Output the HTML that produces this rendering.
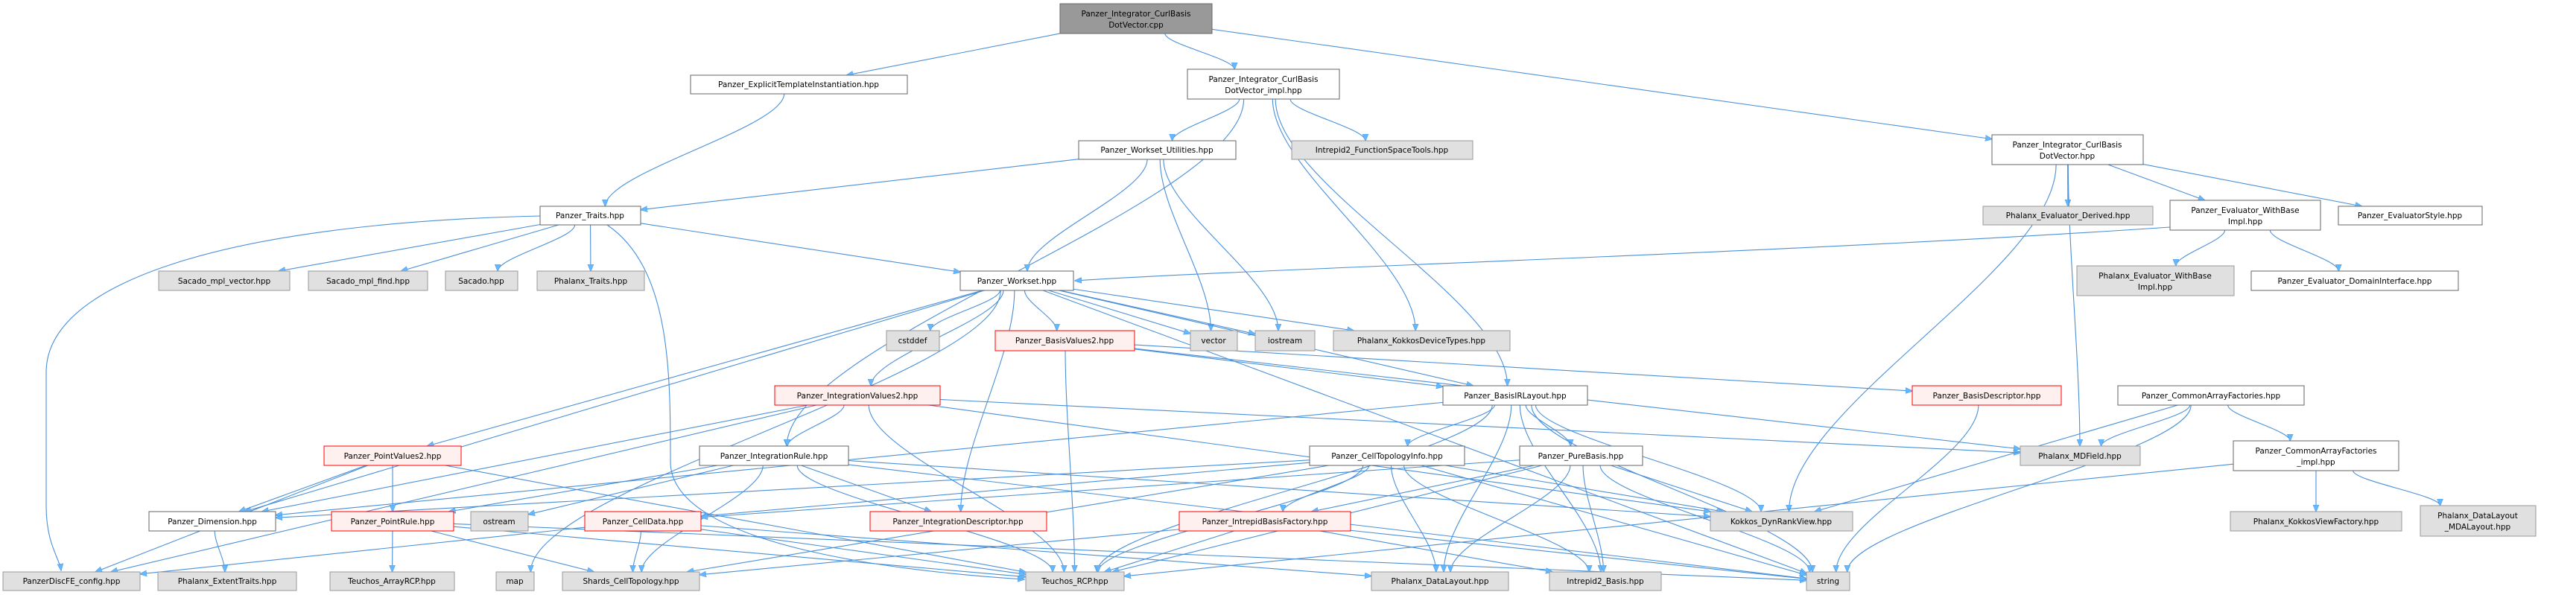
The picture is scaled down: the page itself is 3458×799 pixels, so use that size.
<!DOCTYPE html>
<html><head><meta charset="utf-8">
<style>
html,body{margin:0;padding:0;background:#fff;}
svg{display:block;}
text{font-family:"DejaVu Sans","Liberation Sans",sans-serif;font-size:10.5px;fill:#000;}
</style></head>
<body>
<svg id="g" width="3458" height="799" viewBox="0 0 3458 799" xmlns="http://www.w3.org/2000/svg">
<defs>
<marker id="a" viewBox="0 0 10 10" refX="9" refY="5" markerWidth="10" markerHeight="10" markerUnits="userSpaceOnUse" orient="auto">
<path d="M0,1 L10,5 L0,9 z" fill="#63b8ff" stroke="#4a90d9" stroke-width="0.5"/>
</marker>
</defs>
<g id="edges"></g>
<g id="nodes">
<rect x="1423" y="5" width="204" height="40" fill="#999" stroke="#666"/><text x="1525" y="22" text-anchor="middle">Panzer_Integrator_CurlBasis</text><text x="1525" y="37" text-anchor="middle">DotVector.cpp</text>
<rect x="927" y="101" width="291" height="25" fill="#fff" stroke="#666"/><text x="1072" y="117" text-anchor="middle">Panzer_ExplicitTemplateInstantiation.hpp</text>
<rect x="1594" y="93" width="204" height="40" fill="#fff" stroke="#666"/><text x="1696" y="110" text-anchor="middle">Panzer_Integrator_CurlBasis</text><text x="1696" y="125" text-anchor="middle">DotVector_impl.hpp</text>
<rect x="1448" y="189" width="211" height="25" fill="#fff" stroke="#666"/><text x="1553" y="205" text-anchor="middle">Panzer_Workset_Utilities.hpp</text>
<rect x="1734" y="189" width="243" height="25" fill="#e0e0e0" stroke="#999"/><text x="1855" y="205" text-anchor="middle">Intrepid2_FunctionSpaceTools.hpp</text>
<rect x="2674" y="181" width="203" height="40" fill="#fff" stroke="#666"/><text x="2775" y="198" text-anchor="middle">Panzer_Integrator_CurlBasis</text><text x="2775" y="213" text-anchor="middle">DotVector.hpp</text>
<rect x="725" y="277" width="135" height="25" fill="#fff" stroke="#666"/><text x="792" y="293" text-anchor="middle">Panzer_Traits.hpp</text>
<rect x="2662" y="277" width="228" height="25" fill="#e0e0e0" stroke="#999"/><text x="2776" y="293" text-anchor="middle">Phalanx_Evaluator_Derived.hpp</text>
<rect x="2913" y="269" width="202" height="40" fill="#fff" stroke="#666"/><text x="3014" y="286" text-anchor="middle">Panzer_Evaluator_WithBase</text><text x="3014" y="301" text-anchor="middle">Impl.hpp</text>
<rect x="3139" y="277" width="193" height="25" fill="#fff" stroke="#666"/><text x="3235" y="293" text-anchor="middle">Panzer_EvaluatorStyle.hpp</text>
<rect x="213" y="364" width="176" height="26" fill="#e0e0e0" stroke="#999"/><text x="301" y="381" text-anchor="middle">Sacado_mpl_vector.hpp</text>
<rect x="414" y="364" width="160" height="26" fill="#e0e0e0" stroke="#999"/><text x="494" y="381" text-anchor="middle">Sacado_mpl_find.hpp</text>
<rect x="598" y="364" width="97" height="26" fill="#e0e0e0" stroke="#999"/><text x="646" y="381" text-anchor="middle">Sacado.hpp</text>
<rect x="721" y="364" width="144" height="26" fill="#e0e0e0" stroke="#999"/><text x="793" y="381" text-anchor="middle">Phalanx_Traits.hpp</text>
<rect x="1289" y="364" width="152" height="26" fill="#fff" stroke="#666"/><text x="1365" y="381" text-anchor="middle">Panzer_Workset.hpp</text>
<rect x="2788" y="357" width="211" height="40" fill="#e0e0e0" stroke="#999"/><text x="2893" y="374" text-anchor="middle">Phalanx_Evaluator_WithBase</text><text x="2893" y="389" text-anchor="middle">Impl.hpp</text>
<rect x="3022" y="364" width="278" height="26" fill="#fff" stroke="#666"/><text x="3161" y="381" text-anchor="middle">Panzer_Evaluator_DomainInterface.hpp</text>
<rect x="1190" y="444" width="71" height="27" fill="#e0e0e0" stroke="#999"/><text x="1225" y="461" text-anchor="middle">cstddef</text>
<rect x="1336" y="444" width="187" height="27" fill="#fff0f0" stroke="#f00"/><text x="1429" y="461" text-anchor="middle">Panzer_BasisValues2.hpp</text>
<rect x="1598" y="444" width="63" height="27" fill="#e0e0e0" stroke="#999"/><text x="1629" y="461" text-anchor="middle">vector</text>
<rect x="1685" y="444" width="80" height="27" fill="#e0e0e0" stroke="#999"/><text x="1725" y="461" text-anchor="middle">iostream</text>
<rect x="1790" y="444" width="237" height="27" fill="#e0e0e0" stroke="#999"/><text x="1908" y="461" text-anchor="middle">Phalanx_KokkosDeviceTypes.hpp</text>
<rect x="1040" y="518" width="222" height="26" fill="#fff0f0" stroke="#f00"/><text x="1151" y="535" text-anchor="middle">Panzer_IntegrationValues2.hpp</text>
<rect x="1937" y="518" width="194" height="26" fill="#fff" stroke="#666"/><text x="2034" y="535" text-anchor="middle">Panzer_BasisIRLayout.hpp</text>
<rect x="2567" y="518" width="200" height="26" fill="#fff0f0" stroke="#f00"/><text x="2667" y="535" text-anchor="middle">Panzer_BasisDescriptor.hpp</text>
<rect x="2843" y="518" width="250" height="26" fill="#fff" stroke="#666"/><text x="2968" y="535" text-anchor="middle">Panzer_CommonArrayFactories.hpp</text>
<rect x="435" y="599" width="184" height="26" fill="#fff0f0" stroke="#f00"/><text x="527" y="616" text-anchor="middle">Panzer_PointValues2.hpp</text>
<rect x="939" y="599" width="200" height="26" fill="#fff" stroke="#666"/><text x="1039" y="616" text-anchor="middle">Panzer_IntegrationRule.hpp</text>
<rect x="1758" y="599" width="208" height="26" fill="#fff" stroke="#666"/><text x="1862" y="616" text-anchor="middle">Panzer_CellTopologyInfo.hpp</text>
<rect x="2040" y="599" width="165" height="26" fill="#fff" stroke="#666"/><text x="2122" y="616" text-anchor="middle">Panzer_PureBasis.hpp</text>
<rect x="2712" y="599" width="161" height="26" fill="#e0e0e0" stroke="#999"/><text x="2792" y="616" text-anchor="middle">Phalanx_MDField.hpp</text>
<rect x="2998" y="592" width="222" height="40" fill="#fff" stroke="#666"/><text x="3109" y="609" text-anchor="middle">Panzer_CommonArrayFactories</text><text x="3109" y="624" text-anchor="middle">_impl.hpp</text>
<rect x="200" y="687" width="170" height="26" fill="#fff" stroke="#666"/><text x="285" y="704" text-anchor="middle">Panzer_Dimension.hpp</text>
<rect x="445" y="687" width="164" height="26" fill="#fff0f0" stroke="#f00"/><text x="527" y="704" text-anchor="middle">Panzer_PointRule.hpp</text>
<rect x="632" y="687" width="77" height="26" fill="#e0e0e0" stroke="#999"/><text x="670" y="704" text-anchor="middle">ostream</text>
<rect x="785" y="687" width="156" height="26" fill="#fff0f0" stroke="#f00"/><text x="863" y="704" text-anchor="middle">Panzer_CellData.hpp</text>
<rect x="1168" y="687" width="237" height="26" fill="#fff0f0" stroke="#f00"/><text x="1286" y="704" text-anchor="middle">Panzer_IntegrationDescriptor.hpp</text>
<rect x="1583" y="687" width="230" height="26" fill="#fff0f0" stroke="#f00"/><text x="1698" y="704" text-anchor="middle">Panzer_IntrepidBasisFactory.hpp</text>
<rect x="2296" y="687" width="191" height="26" fill="#e0e0e0" stroke="#999"/><text x="2391" y="704" text-anchor="middle">Kokkos_DynRankView.hpp</text>
<rect x="2994" y="687" width="230" height="26" fill="#e0e0e0" stroke="#999"/><text x="3109" y="704" text-anchor="middle">Phalanx_KokkosViewFactory.hpp</text>
<rect x="3249" y="679" width="155" height="41" fill="#e0e0e0" stroke="#999"/><text x="3326" y="696" text-anchor="middle">Phalanx_DataLayout</text><text x="3326" y="711" text-anchor="middle">_MDALayout.hpp</text>
<rect x="4" y="768" width="184" height="25" fill="#e0e0e0" stroke="#999"/><text x="96" y="784" text-anchor="middle">PanzerDiscFE_config.hpp</text>
<rect x="212" y="768" width="186" height="25" fill="#e0e0e0" stroke="#999"/><text x="305" y="784" text-anchor="middle">Phalanx_ExtentTraits.hpp</text>
<rect x="443" y="768" width="167" height="25" fill="#e0e0e0" stroke="#999"/><text x="526" y="784" text-anchor="middle">Teuchos_ArrayRCP.hpp</text>
<rect x="666" y="768" width="51" height="25" fill="#e0e0e0" stroke="#999"/><text x="691" y="784" text-anchor="middle">map</text>
<rect x="755" y="768" width="184" height="25" fill="#e0e0e0" stroke="#999"/><text x="847" y="784" text-anchor="middle">Shards_CellTopology.hpp</text>
<rect x="1377" y="768" width="132" height="25" fill="#e0e0e0" stroke="#999"/><text x="1443" y="784" text-anchor="middle">Teuchos_RCP.hpp</text>
<rect x="1841" y="768" width="184" height="25" fill="#e0e0e0" stroke="#999"/><text x="1933" y="784" text-anchor="middle">Phalanx_DataLayout.hpp</text>
<rect x="2080" y="768" width="150" height="25" fill="#e0e0e0" stroke="#999"/><text x="2155" y="784" text-anchor="middle">Intrepid2_Basis.hpp</text>
<rect x="2425" y="768" width="58" height="25" fill="#e0e0e0" stroke="#999"/><text x="2454" y="784" text-anchor="middle">string</text>
</g>
</svg>
<script>
var N={
main:[1423,5,204,40],eti:[927,101,291,25],impl:[1594,93,204,40],wu:[1448,189,211,25],fst:[1734,189,243,25],
cbh:[2674,181,203,40],tr:[725,277,135,25],evd:[2662,277,228,25],ewb:[2913,269,202,40],es:[3139,277,193,25],
smv:[213,364,176,26],smf:[414,364,160,26],sac:[598,364,97,26],pt:[721,364,144,26],ws:[1289,364,152,26],
pewb:[2788,357,211,40],edi:[3022,364,278,26],cst:[1190,444,71,27],bv2:[1336,444,187,27],vec:[1598,444,63,27],
ios:[1685,444,80,27],kdt:[1790,444,237,27],iv2:[1040,518,222,26],birl:[1937,518,194,26],bd:[2567,518,200,26],
caf:[2843,518,250,26],pv2:[435,599,184,26],ir:[939,599,200,26],cti:[1758,599,208,26],pb:[2040,599,165,26],
mdf:[2712,599,161,26],cafi:[2998,592,222,40],dim:[200,687,170,26],pr:[445,687,164,26],ost:[632,687,77,26],
cd:[785,687,156,26],id:[1168,687,237,26],ibf:[1583,687,230,26],kdrv:[2296,687,191,26],kvf:[2994,687,230,26],
mda:[3249,679,155,41],cfg:[4,768,184,25],ext:[212,768,186,25],arcp:[443,768,167,25],map:[666,768,51,25],
sh:[755,768,184,25],rcp:[1377,768,132,25],dl:[1841,768,184,25],ib:[2080,768,150,25],str:[2425,768,58,25]};
var E=[["main","eti"],["main","impl"],["main","cbh"],["eti","tr"],["impl","wu"],["impl","fst"],["impl","ir"],["impl","birl"],["impl","kdt"],
["cbh","evd"],["cbh","ewb"],["cbh","es"],["cbh","kdrv"],["cbh","mdf"],["ewb","ws"],["ewb","pewb"],["ewb","edi"],
["wu","tr"],["wu","ws"],["wu","vec"],["wu","ios"],["tr","smv"],["tr","smf"],["tr","sac"],["tr","pt"],["tr","ws"],["tr","rcp"],["tr","cfg"],
["ws","cst"],["ws","bv2"],["ws","vec"],["ws","ios"],["ws","kdt"],["ws","iv2"],["ws","pv2"],["ws","dim"],["ws","map"],["ws","id"],["ws","birl"],["ws","str"],
["bv2","rcp"],["bv2","birl"],["bv2","bd"],["bv2","mdf"],["iv2","ir"],["iv2","dim"],["iv2","cfg"],["iv2","mdf"],["iv2","rcp"],["iv2","kdrv"],
["pv2","dim"],["pv2","pr"],["pv2","cfg"],["pv2","rcp"],["ir","pr"],["ir","ost"],["ir","sh"],["ir","id"],["ir","rcp"],["ir","str"],["ir","kdrv"],
["dim","ext"],["pr","arcp"],["pr","sh"],["pr","rcp"],["pr","str"],["cd","cfg"],["cd","sh"],["cd","rcp"],["cd","dl"],
["birl","cti"],["birl","pb"],["birl","rcp"],["birl","dl"],["birl","str"],["birl","kdrv"],["birl","ib"],["birl","dim"],
["cti","ibf"],["cti","dl"],["cti","ib"],["cti","rcp"],["cti","sh"],["cti","str"],["cti","kdrv"],["cti","dim"],["cti","cd"],
["pb","ibf"],["pb","rcp"],["pb","dl"],["pb","ib"],["pb","str"],["pb","kdrv"],["pb","cd"],["ibf","rcp"],["ibf","ib"],["ibf","sh"],["ibf","str"],
["bd","str"],["caf","mdf"],["caf","cafi"],["caf","kdrv"],["caf","str"],["cafi","kvf"],["cafi","mda"],["cafi","rcp"]];
var custom={
"main-cfg":"M1423,30 C600,55 10,120 10,300 L10,560 C10,700 70,730 80,766",
"impl-str":"M1798,113 C2700,140 3440,200 3440,400 L3440,600 C3440,760 3000,775 2486,780",
"cbh-caf":"M2877,203 C3200,220 3365,250 3365,340 C3365,440 3100,480 3030,516",
"ewb-ws":"M2913,305 C2400,340 1700,360 1443,377",
"tr-cfg":"M725,290 C300,300 62,380 62,500 L62,680 C62,730 80,750 82,766",
"tr-rcp":"M815,302 C900,360 900,500 900,620 C900,740 1250,770 1375,778"};
function bp(n,tx,ty){var x=n[0],y=n[1],w=n[2],h=n[3],cx=x+w/2,cy=y+h/2,dx=tx-cx,dy=ty-cy;
 var sx=dx==0?1e9:(w/2)/Math.abs(dx),sy=dy==0?1e9:(h/2)/Math.abs(dy),s=Math.min(sx,sy);return [cx+dx*s,cy+dy*s];}
var g=document.getElementById("edges"),out="";
E.forEach(function(e){var k=e[0]+"-"+e[1],d;
 if(custom[k]){d=custom[k];}else{var a=N[e[0]],b=N[e[1]];
  var ac=[a[0]+a[2]/2,a[1]+a[3]/2],bc=[b[0]+b[2]/2,b[1]+b[3]/2];
  var p=bp(a,bc[0],bc[1]),q=bp(b,ac[0],ac[1]);var dy=q[1]-p[1],dx=q[0]-p[0];
  if(Math.abs(dy)>Math.abs(dx)*0.4&&Math.abs(dy)>40){var m=dy/2;
   d="M"+p[0]+","+p[1]+" C"+p[0]+","+(p[1]+m*0.6)+" "+q[0]+","+(q[1]-m*0.6)+" "+q[0]+","+q[1];}
  else d="M"+p[0]+","+p[1]+" L"+q[0]+","+q[1];}
 out+='<path d="'+d+'" fill="none" stroke="#4a90d9" stroke-width="1.1" marker-end="url(#a)"/>';});
g.innerHTML=out;
</script>
</body></html>
